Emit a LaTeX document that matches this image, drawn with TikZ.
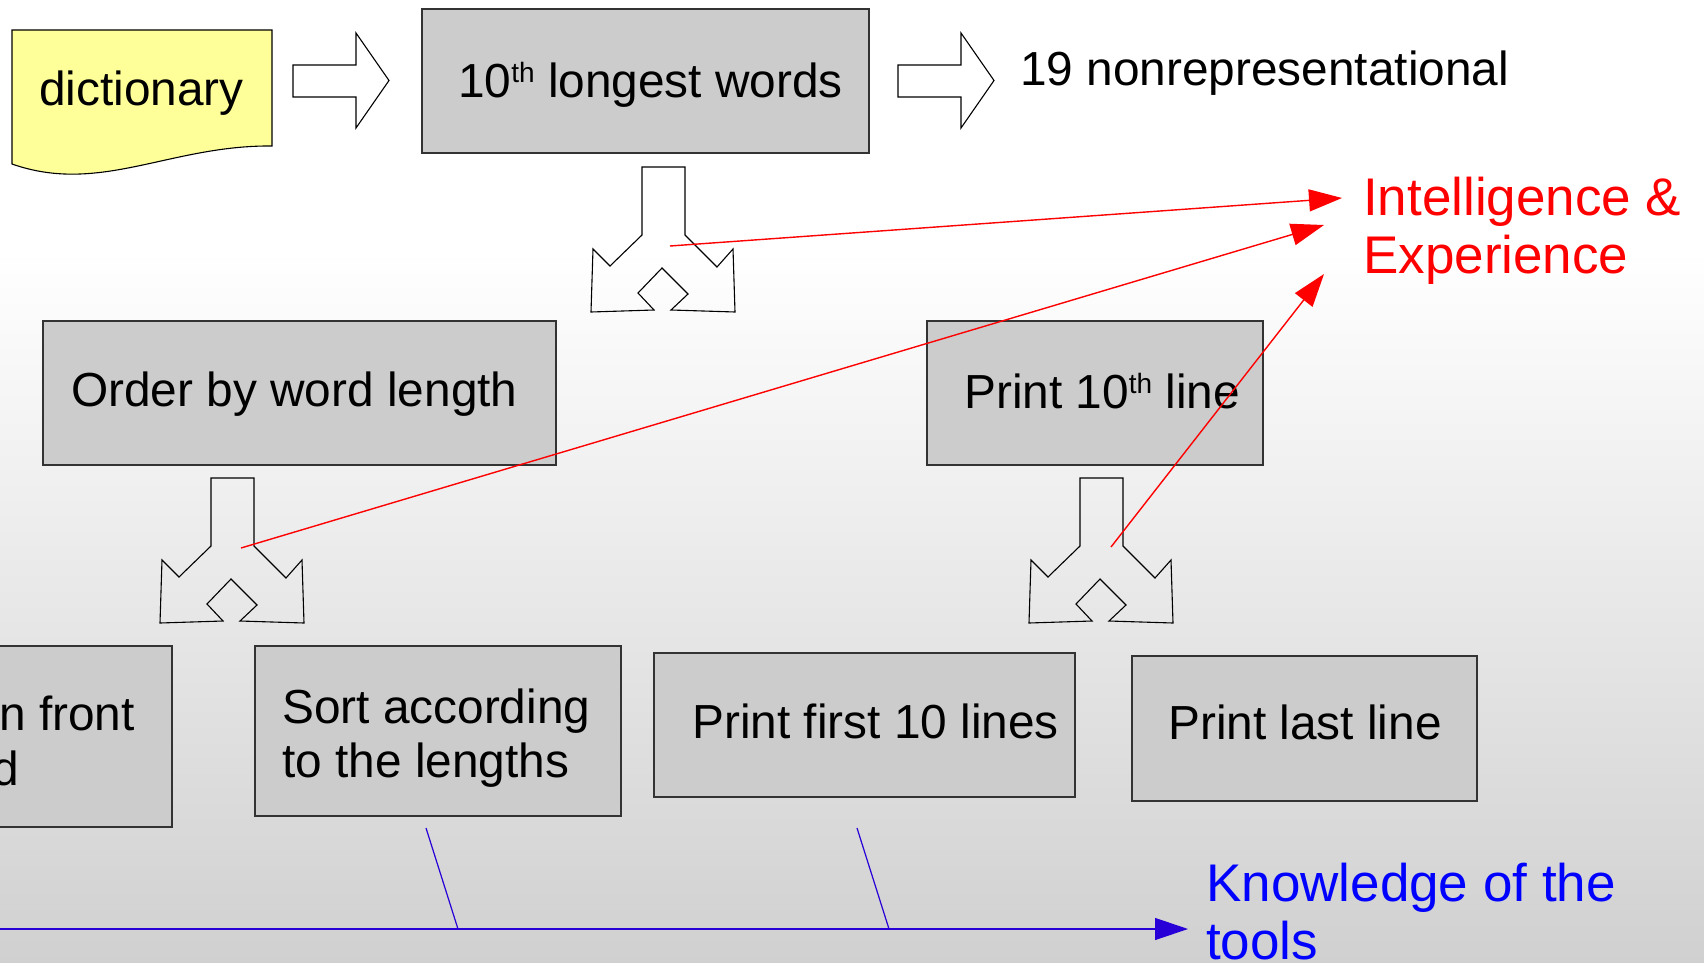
\documentclass[tikz,border=0pt]{standalone}
\usepackage{fontspec}
\setmainfont{Liberation Sans}
\usetikzlibrary{arrows.meta}
\definecolor{bggray}{RGB}{208,208,208}
\definecolor{boxgray}{RGB}{204,204,204}
\definecolor{edgegray}{RGB}{51,51,51}
\definecolor{docyellow}{RGB}{255,255,153}
\definecolor{lineblue}{RGB}{40,0,215}
\newcommand\supth[1]{\raisebox{15pt}{\fontsize{28}{28}\selectfont #1}}
\begin{document}
\begin{tikzpicture}[x=1pt,y=-1pt,
  box/.style={draw=edgegray, line width=1.3pt, fill=boxgray, inner sep=0pt},
  txt/.style={inner sep=0pt, anchor=base west, font=\fontsize{47.8}{54}\selectfont},
  bigtxt/.style={inner sep=0pt, anchor=base west, align=left, font=\fontsize{53}{58}\selectfont},
  shapeline/.style={draw=black, line width=1.1pt, line join=miter},
  redarrow/.style={draw=red, line width=1.4pt, -{Triangle[length=33pt,width=22pt]}},
  blueline/.style={draw=lineblue, line width=1.2pt},
  bluearrow/.style={draw=lineblue, line width=1.2pt, -{Triangle[length=33pt,width=22pt]}},
  splitarrow/.pic={
    \draw[shapeline] (51,0) -- (51,68) -- (19,99) -- (2,82) -- (0,145) -- (63,143)
      -- (47,126) -- (71,101) -- (97,127) -- (80,143) -- (144,145) -- (142,82)
      -- (126,100) -- (94,68) -- (94,0) -- cycle;
  },
  blockarrow/.pic={
    \draw[shapeline, fill=white] (0,32) -- (63,32) -- (63,0) -- (96,47.5) -- (63,95)
      -- (63,64) -- (0,64) -- cycle;
  }
]
\useasboundingbox (0,0) rectangle (1704,963);
\clip (0,0) rectangle (1704,963);
% background
\fill[white] (0,0) rectangle (1704,963);
\shade[top color=white, bottom color=bggray] (0,250) rectangle (1704,963);

% dictionary document shape
\draw[fill=docyellow, draw=black, line width=1.1pt] (12,30) -- (272,30) -- (272,146)
  .. controls (170,145) and (100,195) .. (12,164) -- cycle;
\node[txt] (dict) at (39,106) {dictionary};

% block arrows
\pic at (293,33) {blockarrow};
\pic at (898,33) {blockarrow};

% top box
\node[box, minimum width=447pt, minimum height=144pt] (longest) at (645.5,81) {};
\node[txt] (longest-t) at (458,98) {10\supth{th} longest words};
\node[txt] (result) at (1020,86) {19 nonrepresentational};

% split arrows
\pic at (591,167) {splitarrow};
\pic at (160,478) {splitarrow};
\pic at (1029,478) {splitarrow};

% middle boxes
\node[box, minimum width=513pt, minimum height=144pt] (order) at (299.5,393) {};
\node[txt] (order-t) at (71,406) {Order by word length};
\node[box, minimum width=336pt, minimum height=144pt] (print10) at (1095,393) {};
\node[txt] (print10-t) at (964,408) {Print 10\supth{th} line};

% bottom boxes
\node[box, minimum width=200pt, minimum height=181pt] (front) at (72,736.5) {};
\node[txt, anchor=base east] (front-t1) at (135,730) {n front};
\node[txt, anchor=base east] (front-t2) at (19,785) {d};
\node[box, minimum width=366pt, minimum height=170pt] (sort) at (438,731) {};
\node[txt, align=left] (sort-t) at (282,777) {Sort according\\to the lengths};
\node[box, minimum width=421pt, minimum height=144pt] (first) at (864.5,725) {};
\node[txt] (first-t) at (692,738) {Print first 10 lines};
\node[box, minimum width=345pt, minimum height=145pt] (last) at (1304.5,728.5) {};
\node[txt, anchor=base] (last-t) at (1305,739) {Print last line};

% red annotation
\node[bigtxt, text=red] (intel) at (1363,273) {Intelligence \&\\Experience};
\coordinate (r1s) at (670,246);
\coordinate (r1e) at (1342,198);
\coordinate (r2s) at (241,548);
\coordinate (r2e) at (1324,225);
\coordinate (r3s) at (1111,547);
\coordinate (r3e) at (1324,274);
\draw[redarrow] (r1s) -- (r1e);
\draw[redarrow] (r2s) -- (r2e);
\draw[redarrow] (r3s) -- (r3e);

% blue annotation
\node[bigtxt, text=blue] (know) at (1206,959) {Knowledge of the\\tools};
\coordinate (b0) at (-5,929);
\coordinate (b1) at (1188,929);
\coordinate (t1a) at (426,828);
\coordinate (t1b) at (458,929);
\coordinate (t2a) at (857,828);
\coordinate (t2b) at (889,929);
\draw[bluearrow] (b0) -- (b1);
\draw[blueline] (t1a) -- (t1b);
\draw[blueline] (t2a) -- (t2b);
\end{tikzpicture}
\end{document}
